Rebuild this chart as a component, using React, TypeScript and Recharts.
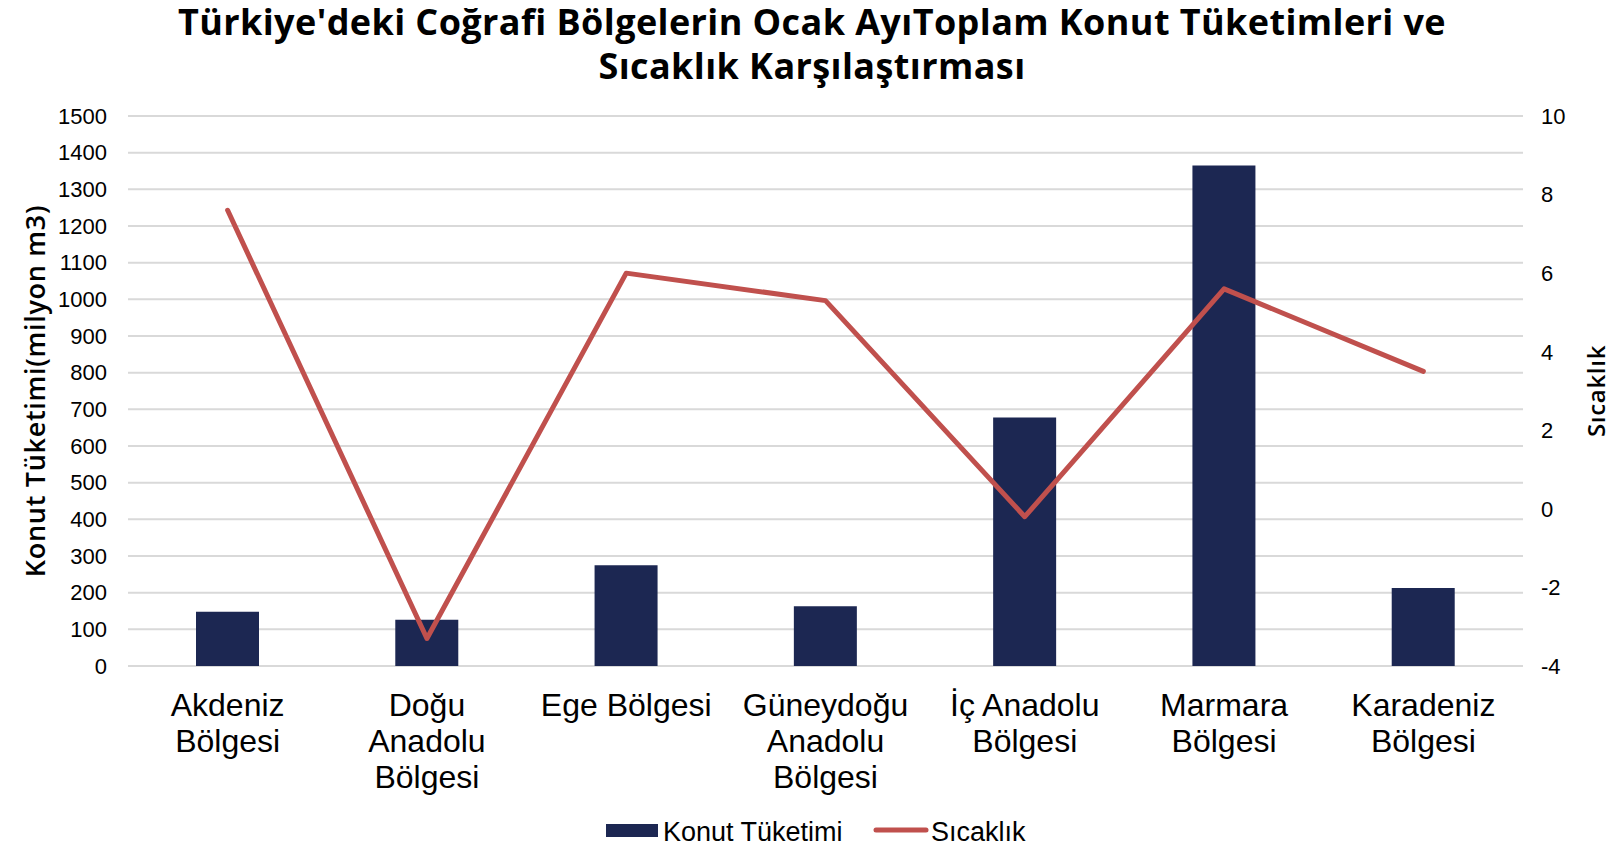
import React from 'react'
import {
  ComposedChart, Bar, Line, XAxis, YAxis, CartesianGrid, Legend,
} from 'recharts'

// regions (x axis) and the two series
const regions = [
  'Akdeniz Bölgesi',
  'Doğu Anadolu Bölgesi',
  'Ege Bölgesi',
  'Güneydoğu Anadolu Bölgesi',
  'İç Anadolu Bölgesi',
  'Marmara Bölgesi',
  'Karadeniz Bölgesi',
]
// how each category label wraps under the axis
const regionLines = [
  ['Akdeniz', 'Bölgesi'],
  ['Doğu', 'Anadolu', 'Bölgesi'],
  ['Ege Bölgesi'],
  ['Güneydoğu', 'Anadolu', 'Bölgesi'],
  ['İç Anadolu', 'Bölgesi'],
  ['Marmara', 'Bölgesi'],
  ['Karadeniz', 'Bölgesi'],
]
const consumption = [148, 126, 275, 163, 678, 1365, 213] // milyon m3
const temperature = [7.6, -3.3, 6.0, 5.3, -0.2, 5.6, 3.5]

const leftTicks = [0, 100, 200, 300, 400, 500, 600, 700, 800, 900, 1000, 1100, 1200, 1300, 1400, 1500]
const rightTicks = [-4, -2, 0, 2, 4, 6, 8, 10]

const data = regions.map((name, i) => ({
  name,
  konut: consumption[i],
  sicaklik: temperature[i],
}))

const BAR_COLOR = '#1c2752'
const LINE_COLOR = '#c0504d'
const TICK_FONT = '"Liberation Sans", Arial, sans-serif'
const TITLE_FONT = '"Open Sans", "DejaVu Sans", sans-serif'

function CategoryTick(props: any) {
  const { x, y, payload } = props
  const idx = regions.indexOf(payload.value)
  const lines = idx >= 0 ? regionLines[idx] : [String(payload.value)]
  return (
    <text x={x} y={y + 50} textAnchor="middle" fontSize={32} fontFamily={TICK_FONT} fill="#000">
      {lines.map((l, i) => (
        <tspan key={i} x={x} dy={i === 0 ? 0 : 36}>{l}</tspan>
      ))}
    </text>
  )
}

function LegendContent() {
  return (
    <svg width={1611} height={40}>
      <rect x={606} y={14} width={52} height={13} fill={BAR_COLOR} />
      <text x={663} y={31} fontSize={27} fontFamily={TICK_FONT} fill="#000">Konut Tüketimi</text>
      <line x1={876} y1={20} x2={926} y2={20} stroke={LINE_COLOR} strokeWidth={5} strokeLinecap="round" />
      <text x={931} y={31} fontSize={27} fontFamily={TICK_FONT} fill="#000">Sıcaklık</text>
    </svg>
  )
}

function AxisTitle({ x, y, text, size }: { x: number; y: number; text: string; size: number }) {
  return (
    <text
      x={x}
      y={y}
      transform={`rotate(-90, ${x}, ${y})`}
      textAnchor="middle"
      dominantBaseline="central"
      fontSize={size}
      fontWeight={600}
      letterSpacing={0.7}
      fontFamily={TITLE_FONT}
      fill="#000"
    >
      {text}
    </text>
  )
}

export default function App() {
  return (
    <div style={{ position: 'absolute', left: 0, top: 0, width: 1611, height: 855, background: '#fff' }}>
      <div
        style={{
          position: 'absolute', left: 0, top: 0, width: 1624, textAlign: 'center',
          fontFamily: TITLE_FONT, fontWeight: 700, fontSize: 36, lineHeight: '44px',
          letterSpacing: 0.4, color: '#000',
        }}
      >
        Türkiye'deki Coğrafi Bölgelerin Ocak AyıToplam Konut Tüketimleri ve
        <br />
        Sıcaklık Karşılaştırması
      </div>
      <ComposedChart
        width={1611}
        height={855}
        data={data}
        margin={{ top: 116, right: 0, bottom: 0, left: 0 }}
      >
        <CartesianGrid yAxisId="left" vertical={false} stroke="#d9d9d9" strokeWidth={2} />
        <XAxis
          dataKey="name"
          height={189}
          tickLine={false}
          axisLine={false}
          tickSize={0}
          tickMargin={0}
          interval={0}
          tick={<CategoryTick />}
        />
        <YAxis
          yAxisId="left"
          width={128}
          domain={[0, 1500]}
          ticks={leftTicks}
          interval={0}
          tickLine={false}
          axisLine={false}
          tickSize={0}
          tickMargin={21}
          tick={{ fontSize: 22, fill: '#000', fontFamily: TICK_FONT }}
          label={(p: any) => <AxisTitle x={34} y={p.viewBox.y + p.viewBox.height / 2} size={27} text="Konut Tüketimi(milyon m3)" />}
        />
        <YAxis
          yAxisId="right"
          orientation="right"
          width={88}
          domain={[-4, 10]}
          ticks={rightTicks}
          interval={0}
          tickLine={false}
          axisLine={false}
          tickSize={0}
          tickMargin={18}
          tick={{ fontSize: 22, fill: '#000', fontFamily: TICK_FONT, textAnchor: 'start' }}
          label={(p: any) => <AxisTitle x={p.viewBox.x + 72} y={p.viewBox.y + p.viewBox.height / 2} size={24} text="Sıcaklık" />}
        />
        <Bar yAxisId="left" dataKey="konut" name="Konut Tüketimi" fill={BAR_COLOR} barSize={63} isAnimationActive={false} />
        <Line
          yAxisId="right"
          dataKey="sicaklik"
          name="Sıcaklık"
          type="linear"
          stroke={LINE_COLOR}
          strokeWidth={5}
          strokeLinejoin="round"
          strokeLinecap="round"
          dot={false}
          activeDot={false}
          isAnimationActive={false}
        />
        <Legend
          verticalAlign="middle"
          align="center"
          content={<LegendContent />}
          wrapperStyle={{ top: 810, left: 0, width: 1611, height: 40 }}
        />
      </ComposedChart>
    </div>
  )
}
